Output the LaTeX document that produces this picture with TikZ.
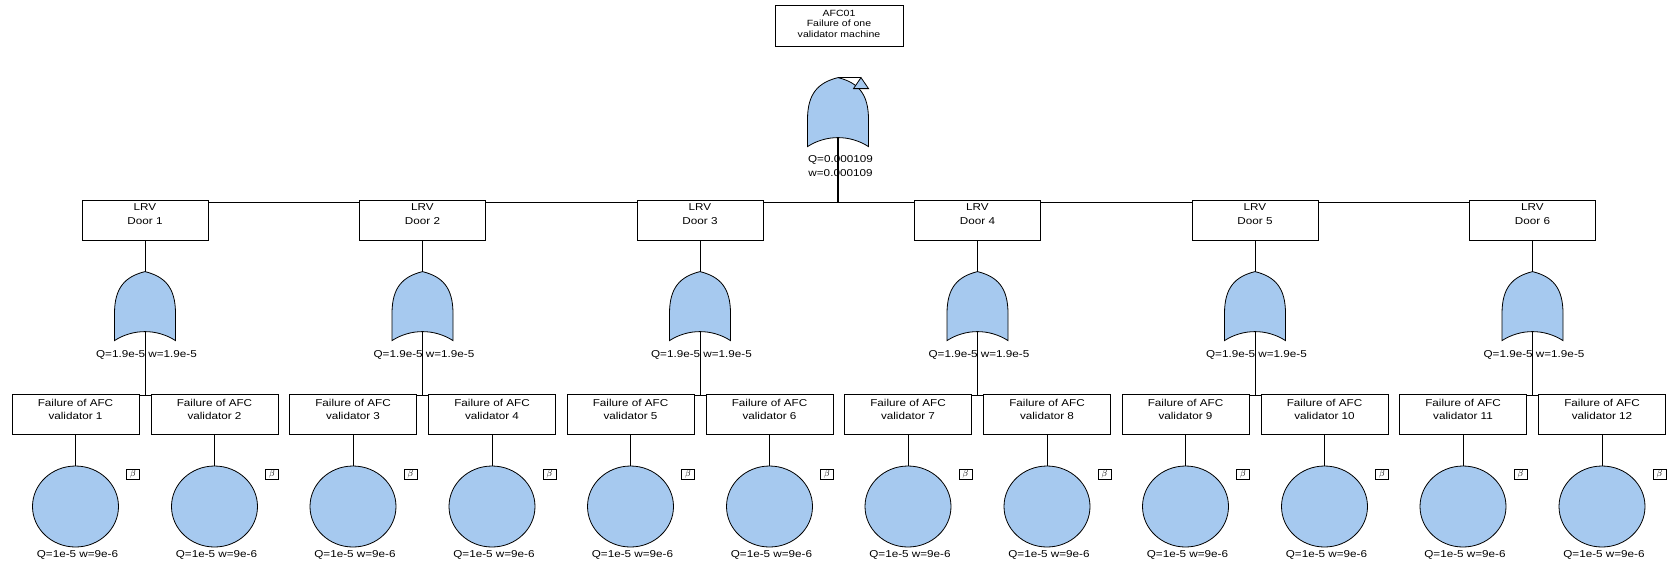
\documentclass[tikz,border=0pt]{standalone}
\usepackage{fontspec}
\setmainfont{Liberation Sans}[FakeStretch=1.17]
\usetikzlibrary{shapes.geometric,calc}
\definecolor{evblue}{HTML}{A6C9EF}

% OR gate outline, given its apex
\newcommand\drawor[1]{%
  \draw[gateshape] (#1)
    .. controls ($(#1)+(-20,5)$) and ($(#1)+(-30.5,16)$) .. ($(#1)+(-30.5,42)$)
    -- ($(#1)+(-30.5,69)$)
    .. controls ($(#1)+(-12,57)$) and ($(#1)+(12,57)$) .. ($(#1)+(30.5,69)$)
    -- ($(#1)+(30.5,42)$)
    .. controls ($(#1)+(30.5,16)$) and ($(#1)+(20,5)$) .. (#1) -- cycle;}

\begin{document}
\begin{tikzpicture}[x=1pt,y=-1pt,line width=0.8pt,
  txt/.style={inner sep=0pt, align=center, anchor=north, font=\fontsize{10}{13.5}\selectfont},
  doorbox/.style={draw, fill=white, minimum width=126pt, minimum height=40pt, inner sep=0pt},
  eventbox/.style={draw, fill=white, minimum width=127pt, minimum height=40pt, inner sep=0pt},
  gatespot/.style={minimum width=61pt, minimum height=60pt, inner sep=0pt},
  gateshape/.style={draw, fill=evblue},
  basic/.style={ellipse, draw, fill=evblue, minimum width=86pt, minimum height=81pt, inner sep=0pt},
  betabox/.style={draw, fill=white, minimum width=13pt, minimum height=10pt, inner sep=0pt, font=\fontsize{9}{9}\selectfont}
]
\useasboundingbox (0,0) rectangle (1671,563);

% top event
\node[draw, fill=white, minimum width=128pt, minimum height=41pt, inner sep=0pt] (top) at (839,25.5) {};
\node[txt, font=\fontsize{9}{10.5}\selectfont] (toptxt) at (839,9.8) {AFC01\\Failure of one\\validator machine};

% top OR gate with transfer triangle
\node[gatespot] (topg) at (838,108) {};
\drawor{topg.north}
\coordinate (tri) at ($(topg.north)+(23,0)$);
\draw (topg.north) -- (tri);
\draw[gateshape] (tri) -- ($(tri)+(7.5,11)$) -- ($(tri)+(-7.5,11)$) -- cycle;
\node[txt] (topq) at (840.5,155.4) {Q=0.000109\\w=0.000109};
\coordinate (bus) at (838,202);

\foreach \i in {1,...,6}{
  \pgfmathsetmacro\cx{145+277.5*(\i-1)}
  \pgfmathtruncatemacro\va{2*\i-1}
  \pgfmathtruncatemacro\vb{2*\i}
  % door event and its OR gate
  \node[doorbox] (door\i) at (\cx,220) {};
  \node[txt, font=\fontsize{10}{14}\selectfont] (doortxt\i) at (\cx,203) {LRV\\Door \i};
  \node[gatespot] (g\i) at (\cx,302) {};
  \drawor{g\i.north}
  \draw (door\i.south) -- (g\i.north);
  \node[txt] (gq\i) at (\cx+1.5,350.4) {Q=1.9e-5 w=1.9e-5};
  \coordinate (jn\i) at (\cx,395);
  \draw (g\i.south) -- (jn\i);
  % two validators per door
  \foreach \s in {0,1}{
    \pgfmathtruncatemacro\n{2*\i-1+\s}
    \pgfmathsetmacro\vx{\cx+139*\s-69.5}
    \node[eventbox] (v\n) at (\vx,414) {};
    \node[txt] (vt\n) at (\vx,398.8) {Failure of AFC\\validator \n};
    \node[basic] (e\n) at (\vx,506.5) {};
    \draw (v\n.south) -- (e\n.north);
    \node[betabox] (beta\n) at (\vx+57.5,474) {$\beta$};
    \node[txt] (eq\n) at (\vx+2,550.4) {Q=1e-5 w=9e-6};
  }
  \draw (v\va.east |- jn\i) -- (v\vb.west |- jn\i);
}

% bus joining the six doors
\foreach \i [evaluate=\i as \j using int(\i+1)] in {1,...,5}{
  \draw (door\i.east |- bus) -- (door\j.west |- bus);
}
\draw[line width=1.6pt] (topg.south) -- (bus);
\end{tikzpicture}
\end{document}
